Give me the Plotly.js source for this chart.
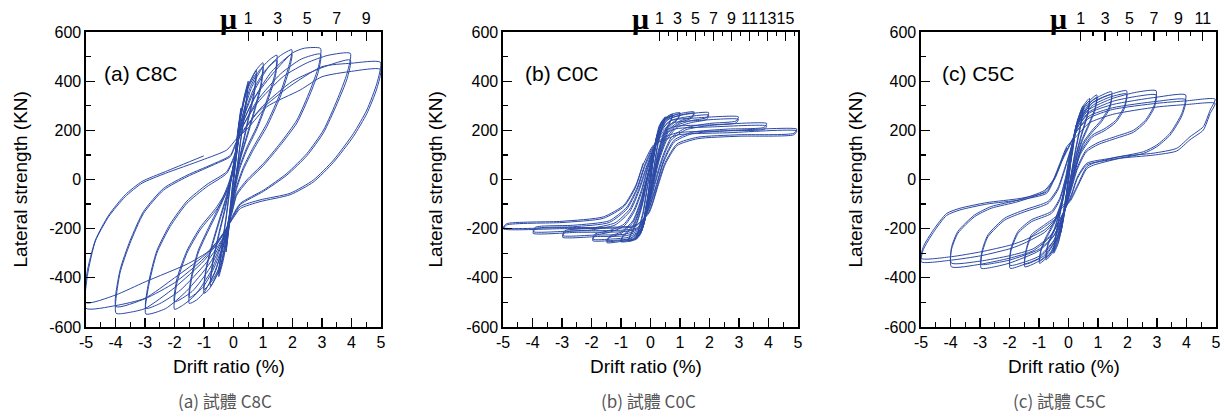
<!DOCTYPE html>
<html><head><meta charset="utf-8">
<script src="https://cdn.plot.ly/plotly-3.0.1.min.js"></script>
<style>html,body{margin:0;padding:0;background:#fff}#chart{width:1223px;height:412px}</style>
</head><body><div id="chart"></div>
<script>
// ---------- data ----------
const specimens = ['C8C', 'C0C', 'C5C'];
const panelLetters = ['(a)', '(b)', '(c)'];
const captionWord = '試體';

const driftTicks = [-5, -4, -3, -2, -1, 0, 1, 2, 3, 4, 5];
const driftLabels = ['-5', '-4', '-3', '-2', '-1', '0', '1', '2', '3', '4', '5'];
const forceTicks = [-600, -400, -200, 0, 200, 400, 600];
const forceLabels = ['-600', '-400', '-200', '0', '200', '400', '600'];

// ductility axis (mu) ticks and yield drift (%) of each specimen
const muTicksA = [1, 3, 5, 7, 9];
const muMinorA = [2, 4, 6, 8, 10];
const muTicksB = [1, 3, 5, 7, 9, 11, 13, 15];
const muMinorB = [2, 4, 6, 8, 10, 12, 14, 16];
const muTicksC = [1, 3, 5, 7, 9, 11];
const muMinorC = [2, 4, 6, 8, 10, 12];
const yieldDriftA = 0.5;
const yieldDriftB = 0.305;
const yieldDriftC = 0.414;

// (a) C8C hysteresis: drift ratio (%) and lateral strength (kN)
const c8cDrift = [
 0,0.12,0.25,0.18,0.06,-0.05,-0.13,-0.25,-0.18,-0.06,0.04,
 0.13,0.25,0.18,0.06,-0.05,-0.13,-0.25,-0.18,-0.06,0.04,
 0.2,0.35,0.5,0.42,0.25,0.1,-0.05,-0.2,-0.35,-0.5,-0.42,-0.25,-0.1,0.05,
 0.2,0.35,0.5,0.42,0.25,0.1,-0.05,-0.2,-0.35,-0.5,-0.42,-0.25,-0.1,0.05,
 0.2,0.45,0.77,0.7,0.5,0.3,0.12,0,-0.15,-0.45,-0.78,-0.7,-0.5,-0.28,-0.1,0.05,
 0.2,0.45,0.77,0.7,0.5,0.3,0.12,0,-0.15,-0.45,-0.78,-0.7,-0.5,-0.28,-0.1,0.05,
 0.2,0.5,0.8,1.0,0.93,0.72,0.48,0.25,0.08,-0.08,-0.25,-0.55,-0.82,-1.0,-0.93,-0.72,-0.45,-0.2,-0.02,0.1,
 0.25,0.55,0.85,1.0,0.93,0.72,0.48,0.25,0.08,-0.08,-0.28,-0.6,-0.85,-1.0,-0.93,-0.72,-0.45,-0.2,-0.02,0.1,
 0.25,0.6,1.0,1.25,1.47,1.41,1.13,0.79,0.45,0.2,0.03,-0.1,-0.3,-0.65,-1.0,-1.25,-1.5,-1.43,-1.2,-0.8,-0.45,-0.15,0.05,
 0.25,0.65,1.05,1.47,1.41,1.13,0.79,0.45,0.2,0.03,-0.1,-0.3,-0.7,-1.05,-1.5,-1.43,-1.2,-0.8,-0.45,-0.15,0.05,
 0.25,0.7,1.2,1.6,1.98,1.87,1.58,1.13,0.68,0.34,0.1,-0.05,-0.3,-0.75,-1.3,-1.7,-2.0,-1.92,-1.58,-1.13,-0.56,-0.2,0.05,
 0.25,0.75,1.3,1.98,1.87,1.58,1.13,0.68,0.34,0.1,-0.05,-0.3,-0.8,-1.4,-2.0,-1.92,-1.58,-1.13,-0.56,-0.2,0.05,
 0.25,0.7,1.4,2.0,2.4,2.95,2.88,2.6,2.15,1.58,1.02,0.45,0.11,-0.05,-0.3,-0.8,-1.6,-2.3,-2.97,-2.88,-2.6,-2.15,-1.58,-0.9,-0.23,0.05,
 0.25,0.8,1.6,2.3,2.95,2.88,2.6,2.15,1.58,1.02,0.45,0.11,-0.05,-0.3,-0.9,-1.8,-2.5,-2.97,-2.88,-2.6,-2.15,-1.58,-0.9,-0.23,0.05,
 0.25,0.8,1.7,2.5,3.2,3.96,3.85,3.51,3.05,2.49,1.81,1.02,0.23,0,-0.3,-1.0,-2.0,-3.0,-3.5,-3.98,-3.85,-3.51,-3.05,-2.37,-1.58,-0.56,-0.11,0.1,
 0.3,1.0,2.0,3.0,3.96,3.85,3.51,3.05,2.49,1.81,1.02,0.23,0,-0.3,-1.0,-2.0,-3.0,-3.98,-3.85,-3.51,-3.05,-2.37,-1.58,-0.56,-0.11,0.1,
 0.3,0.8,1.8,3.0,4.0,4.98,4.86,4.52,4.07,3.39,2.71,1.92,0.9,0.23,0,-0.3,-1.0,-2.0,-3.0,-4.0,-5.0,-4.95,-4.68,-4.23,-3.67,-3.1,-2.31,-1.07,-0.23,0.1,
 0.5,1.13,2.26,3.0,4.0,4.98,4.86,4.52,4.07,3.39,2.71,1.92,0.9,0.23,0,-0.25,-0.62,-1.52,-2.99,-4.0,-5.0,-4.97,-4.68,-4.23,-3.67,-3.1,-2.31,-1.01
];
const c8cForce = [
 0,170,290,200,60,-60,-170,-295,-200,-60,50,
 170,280,190,50,-70,-170,-285,-190,-50,60,
 230,330,400,310,170,30,-90,-230,-330,-395,-300,-160,-20,100,
 220,320,390,300,160,20,-100,-225,-320,-385,-290,-150,-10,100,
 240,370,445,360,250,140,40,-50,-170,-360,-436,-340,-230,-120,-10,90,
 230,360,430,345,240,130,30,-60,-170,-350,-420,-330,-220,-110,0,90,
 230,380,450,475,390,290,190,95,10,-100,-220,-380,-445,-463,-370,-270,-160,-60,30,110,
 230,370,440,458,375,280,180,90,0,-110,-230,-370,-430,-448,-360,-260,-150,-50,40,110,
 230,370,460,490,506,432,323,215,130,50,-40,-130,-250,-380,-460,-490,-504,-410,-300,-195,-110,-20,80,
 220,360,440,485,415,310,205,120,40,-50,-140,-250,-370,-440,-480,-395,-290,-185,-100,-10,80,
 220,360,460,505,528,459,350,228,133,52,-30,-110,-230,-370,-470,-510,-528,-422,-300,-205,-120,-45,60,
 210,340,440,510,440,335,215,122,42,-40,-120,-230,-360,-455,-497,-405,-290,-195,-110,-35,60,
 210,330,440,515,534,533,459,364,242,147,66,-2,-56,-130,-225,-340,-455,-525,-547,-436,-300,-192,-97,-29,25,100,
 200,320,430,490,510,440,348,230,138,58,-10,-64,-135,-225,-335,-450,-505,-524,-420,-290,-182,-88,-20,32,105,
 200,310,420,475,505,513,432,323,201,106,25,-43,-97,-140,-215,-330,-440,-525,-540,-544,-382,-260,-138,-43,11,66,93,150,
 195,300,400,455,486,410,308,190,97,18,-48,-102,-145,-210,-320,-420,-485,-517,-370,-250,-130,-36,17,70,98,155,
 190,270,370,459,473,477,391,283,188,79,-2,-56,-83,-110,-150,-215,-310,-400,-483,-513,-524,-390,-250,-151,-70,-15,25,79,120,165,
 210,296,364,418,440,448,370,268,176,70,-10,-62,-90,-118,-155,-200,-273,-341,-416,-470,-501,-382,-246,-145,-62,-8,32,96
];

// (b) C0C hysteresis
const c0cDrift = [
 0,0.1,0.25,0.15,0,-0.1,-0.25,-0.15,0,0.1,0.25,0.15,0,-0.1,-0.25,-0.15,0,
 0.15,0.3,0.5,0.42,0.25,0.1,-0.05,-0.2,-0.35,-0.5,-0.42,-0.25,-0.1,0.05,
 0.2,0.35,0.5,0.42,0.25,0.1,-0.05,-0.2,-0.35,-0.5,-0.42,-0.25,-0.1,0.05,
 0.2,0.4,0.75,0.68,0.45,0.25,0.08,-0.1,-0.3,-0.5,-0.75,-0.68,-0.45,-0.25,-0.08,0.08,
 0.25,0.45,0.75,0.68,0.45,0.25,0.08,-0.1,-0.3,-0.5,-0.75,-0.68,-0.45,-0.25,-0.08,0.08,
 0.25,0.45,0.7,1.0,0.93,0.6,0.35,0.15,-0.05,-0.25,-0.5,-0.75,-1.0,-0.93,-0.6,-0.35,-0.15,0.05,
 0.25,0.5,0.75,1.0,0.93,0.6,0.35,0.15,-0.05,-0.25,-0.5,-0.75,-1.0,-0.93,-0.6,-0.35,-0.15,0.05,
 0.25,0.5,1.0,1.48,1.4,1.0,0.6,0.35,0.15,-0.05,-0.3,-0.6,-1.0,-1.48,-1.4,-1.0,-0.6,-0.35,-0.15,0.05,
 0.3,0.55,1.0,1.48,1.4,1.0,0.6,0.35,0.15,-0.05,-0.3,-0.65,-1.0,-1.48,-1.4,-1.0,-0.6,-0.35,-0.15,0.05,
 0.3,0.6,1.2,1.97,1.9,1.4,0.9,0.55,0.3,0.1,-0.1,-0.35,-0.7,-1.3,-1.96,-1.88,-1.4,-0.9,-0.55,-0.3,-0.1,0.1,
 0.3,0.65,1.3,1.97,1.9,1.4,0.9,0.55,0.3,0.1,-0.1,-0.35,-0.75,-1.3,-1.96,-1.88,-1.4,-0.9,-0.55,-0.3,-0.1,0.1,
 0.35,0.7,1.5,2.98,2.9,2.0,1.2,0.7,0.4,0.15,-0.1,-0.4,-0.8,-1.8,-2.98,-2.9,-2.0,-1.2,-0.7,-0.4,-0.15,0.1,
 0.35,0.75,1.6,2.98,2.9,2.0,1.2,0.7,0.4,0.15,-0.1,-0.4,-0.85,-1.9,-2.98,-2.9,-2.0,-1.2,-0.7,-0.4,-0.15,0.1,
 0.4,0.8,2.0,3.94,3.85,2.6,1.4,0.8,0.45,0.2,-0.1,-0.45,-0.9,-2.5,-3.98,-3.9,-2.6,-1.4,-0.8,-0.45,-0.2,0.1,
 0.4,0.85,2.1,3.94,3.85,2.6,1.4,0.8,0.45,0.2,-0.1,-0.45,-0.95,-2.6,-3.98,-3.9,-2.6,-1.4,-0.8,-0.45,-0.2,0.1,
 0.45,0.9,2.5,4.96,4.86,3.0,1.6,0.9,0.5,0.25,-0.05,-0.5,-1.0,-3.0,-4.99,-4.88,-3.0,-1.6,-0.9,-0.5,-0.25,0.1,
 0.45,0.95,2.6,4.96,4.86,3.0,1.6,0.9,0.5,0.25,-0.05,-0.5,-1.05,-3.1,-4.99,-4.88,-3.0,-1.6,-0.9,-0.5,-0.25
];
const c0cForce = [
 0,90,190,120,20,-80,-185,-110,-10,85,185,115,15,-85,-180,-105,-5,
 140,220,255,225,150,40,-60,-170,-225,-245,-215,-140,-30,70,
 170,225,250,220,140,30,-70,-170,-220,-240,-210,-130,-20,70,
 170,240,265,240,190,110,0,-110,-210,-243,-252,-228,-175,-90,20,110,
 185,240,262,236,182,100,-10,-115,-210,-240,-249,-224,-168,-82,25,110,
 190,245,265,272,250,215,140,40,-80,-190,-240,-252,-253,-232,-195,-120,-20,80,
 180,240,260,268,246,208,130,30,-85,-190,-236,-248,-250,-228,-188,-112,-12,80,
 185,245,268,275,255,238,200,120,30,-85,-200,-243,-252,-257,-237,-220,-175,-100,-10,80,
 185,240,262,270,250,232,192,112,22,-90,-200,-240,-248,-252,-232,-214,-168,-92,-2,85,
 190,245,265,272,252,240,220,170,90,-10,-110,-205,-240,-248,-249,-228,-215,-190,-130,-50,40,120,
 185,238,256,262,244,232,212,160,80,-20,-118,-205,-235,-242,-243,-222,-208,-182,-120,-40,48,125,
 200,240,250,255,238,228,210,170,90,-10,-120,-205,-228,-232,-235,-215,-205,-185,-130,-50,40,120,
 190,230,240,245,230,220,202,160,80,-20,-126,-200,-222,-226,-228,-208,-198,-176,-120,-40,48,125,
 190,215,222,228,212,205,192,160,80,-20,-130,-200,-212,-215,-219,-200,-192,-175,-120,-40,50,130,
 180,206,214,218,204,198,186,152,72,-28,-134,-196,-206,-209,-212,-194,-186,-168,-112,-32,58,135,
 170,190,198,205,188,182,172,145,70,-20,-130,-190,-197,-200,-201,-185,-175,-158,-110,-30,60,140,
 160,182,190,198,182,176,166,138,62,-28,-136,-186,-193,-196,-196,-180,-170,-152,-104,-24,66
];

// (c) C5C hysteresis
const c5cDrift = [
 0,0.1,0.25,0.15,0,-0.1,-0.25,-0.15,0,0.1,0.25,0.15,0,-0.1,-0.25,-0.15,0,
 0.15,0.3,0.5,0.42,0.25,0.1,-0.05,-0.2,-0.35,-0.5,-0.42,-0.25,-0.1,0.05,
 0.15,0.3,0.5,0.42,0.25,0.1,-0.05,-0.2,-0.35,-0.5,-0.42,-0.25,-0.1,0.05,
 0.2,0.45,0.71,0.65,0.45,0.25,0.1,-0.05,-0.25,-0.5,-0.76,-0.7,-0.47,-0.25,-0.1,0.05,
 0.2,0.45,0.71,0.65,0.45,0.25,0.1,-0.05,-0.25,-0.5,-0.76,-0.7,-0.47,-0.25,-0.1,0.05,
 0.25,0.55,0.96,0.9,0.7,0.45,0.25,0.1,-0.05,-0.3,-0.6,-0.98,-0.93,-0.78,-0.47,-0.25,-0.08,0.08,
 0.25,0.55,0.96,0.9,0.7,0.45,0.25,0.1,-0.05,-0.3,-0.6,-0.98,-0.93,-0.78,-0.47,-0.25,-0.08,0.08,
 0.3,0.8,1.46,1.4,1.1,0.8,0.5,0.25,0.05,-0.15,-0.4,-0.85,-1.48,-1.43,-1.26,-0.81,-0.36,-0.2,-0.05,0.1,
 0.3,0.8,1.46,1.4,1.1,0.8,0.5,0.25,0.05,-0.15,-0.4,-0.85,-1.48,-1.43,-1.26,-0.81,-0.36,-0.2,-0.05,0.1,
 0.3,0.8,1.4,1.97,1.9,1.6,1.2,0.8,0.4,0.2,0,-0.2,-0.5,-1.0,-1.5,-1.98,-1.95,-1.71,-1.26,-0.58,-0.3,-0.1,0.05,
 0.3,0.8,1.4,1.97,1.9,1.6,1.2,0.8,0.4,0.2,0,-0.2,-0.5,-1.0,-1.5,-1.98,-1.95,-1.71,-1.26,-0.58,-0.3,-0.1,0.05,
 0.3,0.7,1.5,2.3,2.97,2.9,2.6,2.2,1.6,1.0,0.6,0.3,0.1,-0.15,-0.5,-1.0,-2.0,-2.5,-2.96,-2.93,-2.73,-2.16,-1.48,-0.69,-0.36,-0.15,0.05,
 0.3,0.7,1.5,2.3,2.97,2.9,2.6,2.2,1.6,1.0,0.6,0.3,0.1,-0.15,-0.5,-1.0,-2.0,-2.5,-2.96,-2.93,-2.73,-2.16,-1.48,-0.69,-0.36,-0.15,0.05,
 0.3,0.7,1.5,3.0,3.97,3.84,3.44,2.99,2.54,1.41,0.62,0.3,0.1,-0.2,-0.6,-1.2,-2.0,-3.0,-3.97,-3.97,-3.75,-3.18,-2.62,-1.71,-0.81,-0.47,-0.2,0.05,
 0.3,0.7,1.5,3.0,3.97,3.84,3.44,2.99,2.54,1.41,0.62,0.3,0.1,-0.2,-0.6,-1.2,-2.0,-3.0,-3.97,-3.97,-3.75,-3.18,-2.62,-1.71,-0.81,-0.47,-0.2,0.05,
 0.3,0.7,1.5,3.0,4.0,4.97,4.8,4.57,4.12,3.67,2.87,1.75,0.84,0.62,0.28,0.05,-0.25,-0.47,-0.81,-1.48,-1.94,-2.96,-3.97,-4.99,-4.92,-4.58,-4.13,-3.68,-2.77,-1.64,-0.74,-0.51,-0.29,-0.06,
 0.3,0.7,1.5,3.0,4.0,4.97,4.8,4.57,4.12,3.67,2.87,1.75,0.84,0.62,0.28,0.05,-0.25,-0.47,-0.81,-1.48,-1.94,-2.96,-3.97,-4.99,-4.92,-4.58,-4.13,-3.68,-2.77,-1.64,-0.74,-0.51,-0.29,-0.06
];
const c5cForce = [
 0,100,220,130,20,-90,-215,-120,-10,95,210,120,15,-95,-205,-115,-5,
 150,240,300,230,130,30,-70,-180,-260,-300,-225,-120,-20,70,
 140,230,290,222,122,22,-78,-180,-255,-292,-218,-112,-12,72,
 190,290,330,270,190,100,20,-70,-200,-290,-327,-270,-205,-110,-20,80,
 185,282,320,262,182,92,12,-76,-200,-284,-318,-262,-197,-102,-12,84,
 210,300,344,290,230,160,80,0,-80,-210,-300,-341,-290,-246,-175,-100,-10,90,
 205,292,334,282,222,152,72,-8,-86,-210,-294,-332,-282,-238,-167,-92,-2,94,
 230,320,357,300,240,200,150,60,-40,-130,-240,-320,-355,-290,-233,-192,-151,-90,0,100,
 222,312,345,290,232,192,142,52,-48,-134,-238,-312,-344,-282,-225,-184,-143,-82,8,104,
 230,310,345,361,300,240,205,180,110,30,-60,-150,-250,-320,-345,-361,-290,-219,-172,-138,-85,0,100,
 222,300,335,348,290,232,197,172,102,22,-66,-152,-248,-312,-336,-349,-280,-211,-164,-130,-77,8,104,
 220,285,330,355,361,300,240,200,175,150,120,50,-30,-130,-230,-290,-340,-355,-361,-300,-233,-165,-131,-97,-43,30,110,
 212,275,318,338,344,290,232,192,167,142,112,42,-38,-134,-228,-284,-328,-340,-345,-290,-225,-157,-123,-89,-35,38,114,
 210,270,305,335,344,269,188,140,113,86,66,10,-60,-140,-230,-290,-320,-345,-355,-287,-219,-151,-117,-90,-50,2,80,140,
 200,258,292,318,325,258,180,133,106,80,60,4,-66,-142,-226,-282,-310,-332,-340,-278,-211,-144,-110,-84,-44,8,86,144,
 200,250,285,310,320,327,282,215,174,127,107,93,66,52,-29,-84,-111,-165,-205,-246,-266,-294,-314,-321,-273,-205,-138,-117,-94,-77,-50,0,66,133,
 180,230,265,295,305,310,268,201,162,116,99,86,58,44,-36,-90,-118,-172,-215,-258,-280,-310,-328,-335,-285,-215,-146,-124,-100,-83,-56,-6,60,128
];

// ---------- layout helpers (pixel geometry) ----------
const W = 1223, H = 412;
const plotLeft = [86, 503, 921], plotW = 295;
const plotTop = 32, plotBottom = 327;
const px = v => v / W, py = v => 1 - v / H;
const LINE = '#2B4AA6';
const FONT = 'Liberation Sans, Arial, sans-serif';

const drifts = [c8cDrift, c0cDrift, c5cDrift];
const forces = [c8cForce, c0cForce, c5cForce];
const muTicks = [muTicksA, muTicksB, muTicksC];
const muMinor = [muMinorA, muMinorB, muMinorC];
const yields = [yieldDriftA, yieldDriftB, yieldDriftC];
const muX = [228, 640, 1058];
const yTitleX = [20, 435, 855];
const xTitleX = [229, 646, 1064];
const captionX = [225, 648, 1059];

const data = [];
const layout = {
  width: W, height: H, margin: {l: 0, r: 0, t: 0, b: 0},
  paper_bgcolor: '#fff', plot_bgcolor: '#fff', showlegend: false,
  font: {family: FONT, size: 16, color: '#000'},
  annotations: []
};

for (let i = 0; i < 3; i++) {
  const n = i + 1;
  const xa = 'xaxis' + (n === 1 ? '' : n), ya = 'yaxis' + (n === 1 ? '' : n);
  const xr = 'x' + (n === 1 ? '' : n), yr = 'y' + (n === 1 ? '' : n);
  const ta = 'xaxis' + (n + 3), tr = 'x' + (n + 3);
  data.push({
    type: 'scatter', mode: 'lines', x: drifts[i], y: forces[i],
    xaxis: xr, yaxis: yr,
    line: {color: LINE, width: 1, shape: 'spline', smoothing: 0.6},
    hoverinfo: 'skip'
  });
  // invisible trace to activate the top (mu) axis
  data.push({type: 'scatter', mode: 'lines', x: [0], y: [0], xaxis: tr, yaxis: yr,
    line: {width: 0}, hoverinfo: 'skip', showlegend: false});
  const dom = [px(plotLeft[i]), px(plotLeft[i] + plotW)];
  layout[xa] = {
    domain: dom, anchor: yr, range: [-5, 5], tickmode: 'array',
    tickvals: driftTicks, ticktext: driftLabels,
    ticks: 'inside', ticklen: 9, tickwidth: 1.3, tickcolor: '#000',
    minor: {ticks: 'inside', ticklen: 5, tickwidth: 1.2, dtick: 0.5, tick0: 0, tickcolor: '#000', showgrid: false},
    showline: true, mirror: true, linecolor: '#000', linewidth: 1.6,
    showgrid: false, zeroline: false, tickfont: {family: FONT, size: 16, color: '#000'}, tickangle: 0
  };
  layout[ya] = {
    domain: [py(plotBottom), py(plotTop)], anchor: xr, range: [-600, 600], tickmode: 'array',
    tickvals: forceTicks, ticktext: forceLabels,
    ticks: 'inside', ticklen: 9, tickwidth: 1.3, tickcolor: '#000',
    minor: {ticks: 'inside', ticklen: 5, tickwidth: 1.2, dtick: 100, tick0: 0, tickcolor: '#000', showgrid: false},
    showline: true, mirror: true, linecolor: '#000', linewidth: 1.6,
    showgrid: false, zeroline: false, tickfont: {family: FONT, size: 16, color: '#000'}
  };
  const mr = 5 / yields[i];
  layout[ta] = {
    overlaying: xr, side: 'top', anchor: yr, range: [-mr, mr], tickmode: 'array',
    tickvals: muTicks[i], ticktext: muTicks[i].map(String),
    ticks: 'inside', ticklen: 9, tickwidth: 1.3, tickcolor: '#000',
    minor: {tickmode: 'array', tickvals: muMinor[i], ticks: 'inside', ticklen: 4, tickwidth: 1.2, tickcolor: '#000', showgrid: false},
    showline: true, linecolor: '#000', linewidth: 1.6, showgrid: false, zeroline: false,
    tickfont: {family: FONT, size: 16, color: '#000'}, tickangle: 0
  };
  // mu symbol
  layout.annotations.push({text: '<b>μ</b>', xref: 'paper', yref: 'paper', x: px(muX[i]), y: py(19),
    xanchor: 'center', yanchor: 'middle', showarrow: false,
    font: {family: 'Liberation Serif, Times New Roman, serif', size: 30, color: '#000'}});
  // panel label
  layout.annotations.push({text: panelLetters[i] + ' ' + specimens[i], xref: 'paper', yref: 'paper',
    x: px(plotLeft[i] + [16, 20, 19][i]), y: py(73), xanchor: 'left', yanchor: 'middle', showarrow: false,
    font: {family: FONT, size: 21, color: '#000'}});
  // axis titles
  layout.annotations.push({text: 'Lateral strength (KN)', xref: 'paper', yref: 'paper',
    x: px(yTitleX[i]), y: py((plotTop + plotBottom) / 2), textangle: -90,
    xanchor: 'center', yanchor: 'middle', showarrow: false, font: {family: FONT, size: 19, color: '#000'}});
  layout.annotations.push({text: 'Drift ratio (%)', xref: 'paper', yref: 'paper',
    x: px(xTitleX[i]), y: py(366), xanchor: 'center', yanchor: 'middle', showarrow: false,
    font: {family: FONT, size: 19, color: '#000'}});
  // caption
  layout.annotations.push({text: panelLetters[i] + ' ' + captionWord + ' ' + specimens[i], xref: 'paper', yref: 'paper',
    x: px(captionX[i]), y: py(400), xanchor: 'center', yanchor: 'middle', showarrow: false,
    font: {family: 'Noto Sans CJK TC, Noto Sans CJK SC, sans-serif', size: 17, color: '#555'}});
}

Plotly.newPlot('chart', data, layout, {staticPlot: true, displayModeBar: false});
</script></body></html>
